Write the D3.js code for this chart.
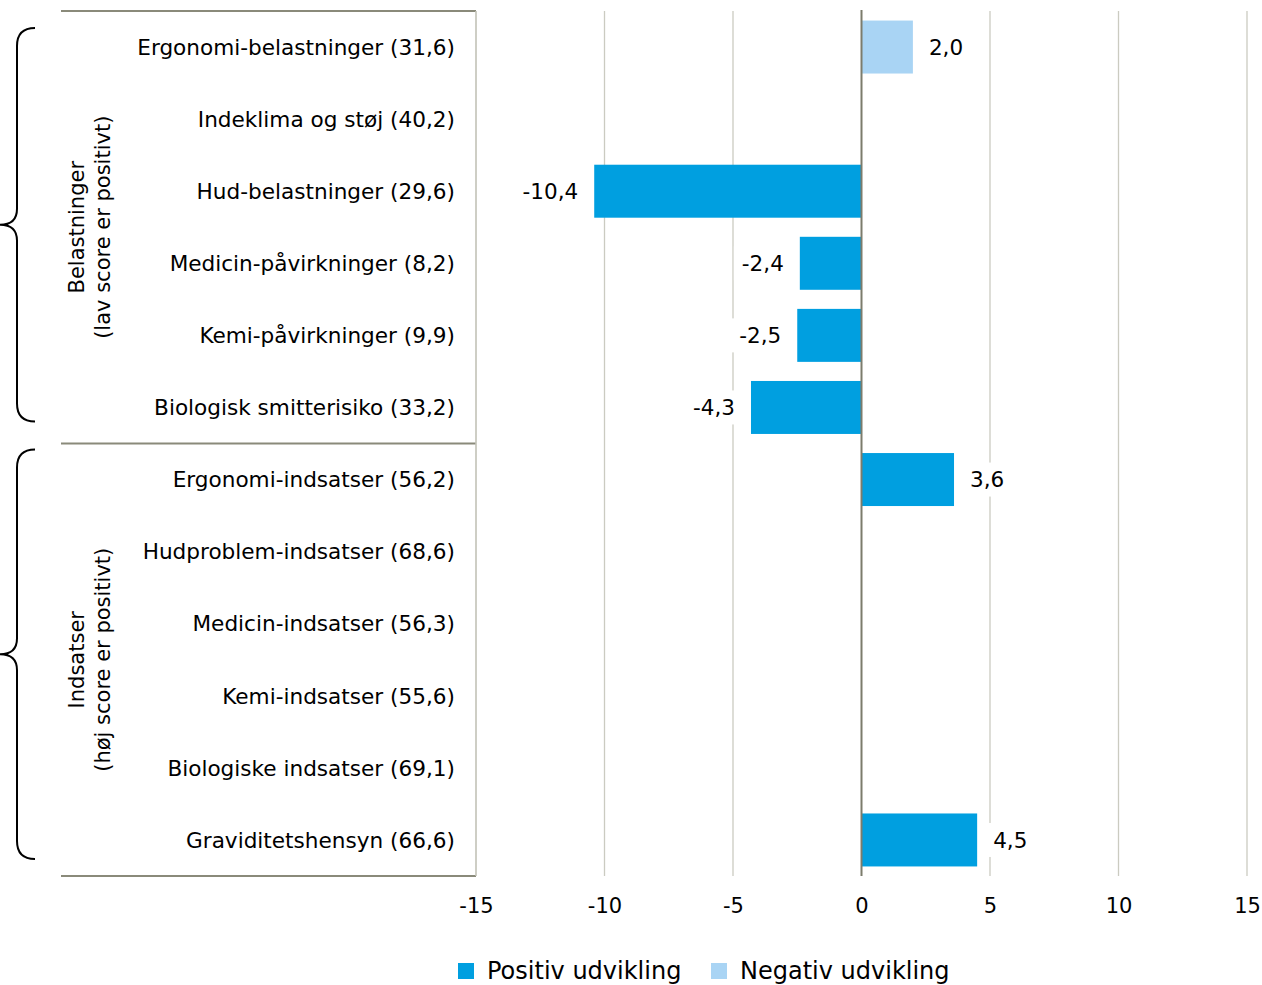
<!DOCTYPE html>
<html>
<head>
<meta charset="utf-8">
<script src="https://cdn.jsdelivr.net/npm/d3@7"></script>
<style>
  body { margin: 0; background: #fff; }
  text { font-family: "DejaVu Sans", Verdana, sans-serif; fill: #000; }
</style>
</head>
<body>
<div id="chart"></div>
<script>
// rows, top to bottom
var categories = [
  "Ergonomi-belastninger (31,6)",
  "Indeklima og støj (40,2)",
  "Hud-belastninger (29,6)",
  "Medicin-påvirkninger (8,2)",
  "Kemi-påvirkninger (9,9)",
  "Biologisk smitterisiko (33,2)",
  "Ergonomi-indsatser (56,2)",
  "Hudproblem-indsatser (68,6)",
  "Medicin-indsatser (56,3)",
  "Kemi-indsatser (55,6)",
  "Biologiske indsatser (69,1)",
  "Graviditetshensyn (66,6)"
];
var values = [2.0, null, -10.4, -2.4, -2.5, -4.3, 3.6, null, null, null, null, 4.5];
// "pos" = Positiv udvikling, "neg" = Negativ udvikling
var series = ["neg", null, "pos", "pos", "pos", "pos", "pos", null, null, null, null, "pos"];
var groups = [
  { lines: ["Belastninger", "(lav score er positivt)"], first: 0, last: 5 },
  { lines: ["Indsatser", "(høj score er positivt)"], first: 6, last: 11 }
];
var tickVals = [-15, -10, -5, 0, 5, 10, 15];
var legendItems = [
  { key: "pos", label: "Positiv udvikling" },
  { key: "neg", label: "Negativ udvikling" }
];

var width = 1262, height = 985;
var colors = { pos: "#009fe0", neg: "#a9d4f4" };

var svg = d3.select("#chart").append("svg")
  .attr("width", width)
  .attr("height", height);

var x = d3.scaleLinear().domain([-15, 15]).range([476, 1247]);
var y = d3.scaleBand().domain(categories).range([11, 876])
  .paddingInner(0.265).paddingOuter(0.1325);

var step = y.step();
var top0 = 11, bottom0 = 876;

// gridlines
svg.append("g").selectAll("line")
  .data(tickVals.filter(function(d) { return d !== 0; }))
  .enter().append("line")
    .attr("x1", function(d) { return x(d); })
    .attr("x2", function(d) { return x(d); })
    .attr("y1", top0)
    .attr("y2", bottom0)
    .attr("stroke", "#cbcbc1")
    .attr("stroke-width", 1.3);

// group separators
var sepYs = [top0, top0 + step * 6, bottom0];
svg.append("g").selectAll("line")
  .data(sepYs)
  .enter().append("line")
    .attr("x1", 61)
    .attr("x2", x(-15))
    .attr("y1", function(d) { return d; })
    .attr("y2", function(d) { return d; })
    .attr("stroke", "#8a8a7a")
    .attr("stroke-width", 2);

// bars
var rows = categories.map(function(c, i) { return { cat: c, v: values[i], s: series[i] }; });
var withVal = rows.filter(function(d) { return d.v !== null; });

svg.append("g").selectAll("rect")
  .data(withVal)
  .enter().append("rect")
    .attr("x", function(d) { return x(Math.min(0, d.v)); })
    .attr("y", function(d) { return y(d.cat); })
    .attr("width", function(d) { return Math.abs(x(d.v) - x(0)); })
    .attr("height", y.bandwidth())
    .attr("fill", function(d) { return colors[d.s]; });

// zero line
svg.append("line")
  .attr("x1", x(0)).attr("x2", x(0))
  .attr("y1", top0 - 1).attr("y2", bottom0)
  .attr("stroke", "#7c7c6c")
  .attr("stroke-width", 2);

// value labels with white boxes (plain hyphen for minus, comma decimals)
var fmt = function(v) { return d3.format(".1f")(v).replace("\u2212", "-").replace(".", ","); };
var lab = svg.append("g").selectAll("g")
  .data(withVal)
  .enter().append("g")
    .attr("transform", function(d) {
      var xx = d.v < 0 ? x(d.v) - 16 : x(d.v) + 16;
      return "translate(" + xx + "," + (y(d.cat) + y.bandwidth() / 2) + ")";
    });
lab.append("text")
  .attr("text-anchor", function(d) { return d.v < 0 ? "end" : "start"; })
  .attr("dy", "0.36em")
  .style("font-size", "21.5px")
  .text(function(d) { return fmt(d.v); });
lab.each(function() {
  var g = d3.select(this);
  var bb = g.select("text").node().getBBox();
  g.insert("rect", "text")
    .attr("x", bb.x - 8).attr("y", -17)
    .attr("width", bb.width + 16).attr("height", 34)
    .attr("fill", "#fff");
});

// category labels
svg.append("g").selectAll("text")
  .data(categories)
  .enter().append("text")
    .attr("x", 455)
    .attr("y", function(d) { return y(d) + y.bandwidth() / 2; })
    .attr("dy", "0.36em")
    .attr("text-anchor", "end")
    .style("font-size", "21.6px")
    .text(function(d) { return d; });

// left plot border
svg.append("line")
  .attr("x1", x(-15)).attr("x2", x(-15))
  .attr("y1", top0).attr("y2", bottom0)
  .attr("stroke", "#c9c9bf")
  .attr("stroke-width", 1.5);

// x axis
var xAxis = d3.axisBottom(x).tickValues(tickVals).tickSize(0).tickPadding(22)
  .tickFormat(function(d) { return String(d); });
var ax = svg.append("g")
  .attr("transform", "translate(0," + bottom0 + ")")
  .call(xAxis);
ax.select(".domain").remove();
ax.selectAll("text")
  .style("font-family", "DejaVu Sans, Verdana, sans-serif")
  .style("font-size", "21px")
  .attr("fill", "#000");

// braces + group labels
var braceInset = [[17, 22], [6, 17]];
groups.forEach(function(gr, gi) {
  var gTop = top0 + step * gr.first, gBot = top0 + step * (gr.last + 1);
  var y0 = gTop + braceInset[gi][0];
  var y1 = gBot - braceInset[gi][1];
  var ym = (y0 + y1) / 2;
  var p = d3.path();
  p.moveTo(35, y0);
  p.quadraticCurveTo(17, y0, 17, y0 + 18);
  p.lineTo(17, ym - 16);
  p.quadraticCurveTo(17, ym, 0, ym);
  p.quadraticCurveTo(17, ym, 17, ym + 16);
  p.lineTo(17, y1 - 18);
  p.quadraticCurveTo(17, y1, 35, y1);
  svg.append("path")
    .attr("d", p.toString())
    .attr("fill", "none")
    .attr("stroke", "#000")
    .attr("stroke-width", 2);

  var t = svg.append("text")
    .attr("transform", "translate(84," + (gTop + gBot) / 2 + ") rotate(-90)")
    .attr("text-anchor", "middle")
    .style("font-size", "21px");
  t.append("tspan").attr("x", 0).attr("y", 0).text(gr.lines[0]);
  t.append("tspan").attr("x", 0).attr("y", 26).text(gr.lines[1]);
});

// legend (kept just inside the bottom edge)
var leg = svg.append("g");
var legX = [458, 711];
legendItems.forEach(function(it, i) {
  leg.append("rect")
    .attr("x", legX[i]).attr("y", 963)
    .attr("width", 16).attr("height", 16)
    .attr("fill", colors[it.key]);
  leg.append("text")
    .attr("x", legX[i] + 29).attr("y", 979)
    .style("font-size", "24px")
    .text(it.label);
});
</script>
</body>
</html>
